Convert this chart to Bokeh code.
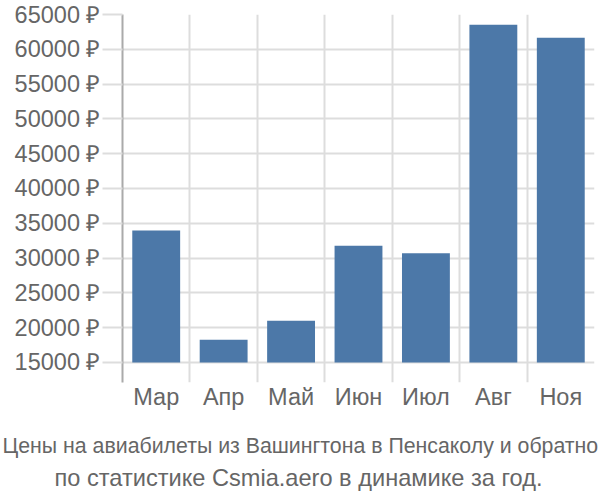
from bokeh.plotting import figure
from bokeh.models import Range1d, FixedTicker, Title
from bokeh.embed import file_html
from bokeh.resources import INLINE

months = ["Мар", "Апр", "Май", "Июн", "Июл", "Авг", "Ноя"]
prices = [33970, 18260, 20990, 31770, 30700, 63520, 61650]
y_ticks = [15000, 20000, 25000, 30000, 35000, 40000, 45000, 50000, 55000, 60000, 65000]
title_lines = ["Цены на авиабилеты из Вашингтона в Пенсаколу и обратно",
               "по статистике Csmia.aero в динамике за год."]

FONT = "Liberation Sans"
TXT = "#666666"

p = figure(width=600, height=500, output_backend="svg", toolbar_location=None,
           x_range=Range1d(0, len(months)), y_range=Range1d(12126, 65000),
           min_border_left=122, min_border_right=6, min_border_top=14, min_border_bottom=118)
p.outline_line_color = None
p.background_fill_color = "white"

xs = [i + 0.5 for i in range(len(months))]
p.vbar(x=xs, top=prices, bottom=15000, width=0.71, color="#4c78a8", line_color=None)

# x axis
p.xaxis.ticker = FixedTicker(ticks=xs)
p.xaxis.major_label_overrides = {x: m for x, m in zip(xs, months)}
p.xaxis.axis_line_color = None
p.xaxis.major_tick_line_color = None
p.xaxis.major_tick_out = 0
p.xaxis.major_tick_in = 0
p.xaxis.minor_tick_line_color = None
p.xaxis.major_label_text_font = FONT
p.xaxis.major_label_text_font_size = "23.5px"
p.xaxis.major_label_text_color = TXT
p.xaxis.major_label_standoff = 1
p.xgrid.ticker = FixedTicker(ticks=list(range(len(months) + 1)))
p.xgrid.grid_line_color = "#dddddd"
p.xgrid.grid_line_width = 2

# y axis
p.yaxis.ticker = FixedTicker(ticks=y_ticks)
p.yaxis.major_label_overrides = {v: f"{v} ₽" for v in y_ticks}
p.yaxis.axis_line_color = "#aaaaaa"
p.yaxis.axis_line_width = 2
p.yaxis.major_tick_out = 20
p.yaxis.major_tick_in = 0
p.yaxis.major_tick_line_color = "#dddddd"
p.yaxis.major_tick_line_width = 2
p.yaxis.minor_tick_line_color = None
p.yaxis.major_label_text_font = FONT
p.yaxis.major_label_text_font_size = "23.5px"
p.yaxis.major_label_text_color = TXT
p.yaxis.major_label_standoff = 2
p.ygrid.grid_line_color = "#dddddd"
p.ygrid.grid_line_width = 2

# spacer between axis labels and the caption
p.add_layout(Title(text=" ", text_font_size="1px", standoff=9, text_line_height=1.0), "below")

title_sizes = ["21.3px", "23.6px"]
title_offsets = [-120, -68]
title_standoffs = [14, -4]
for line, size, off, so in zip(title_lines, title_sizes, title_offsets, title_standoffs):
    p.add_layout(Title(text=line, align="left", text_font=FONT, text_font_size=size,
                       text_font_style="normal", text_color=TXT,
                       standoff=so, offset=off, text_line_height=1.0), "below")

open("out.html", "w").write(file_html(p, INLINE))
